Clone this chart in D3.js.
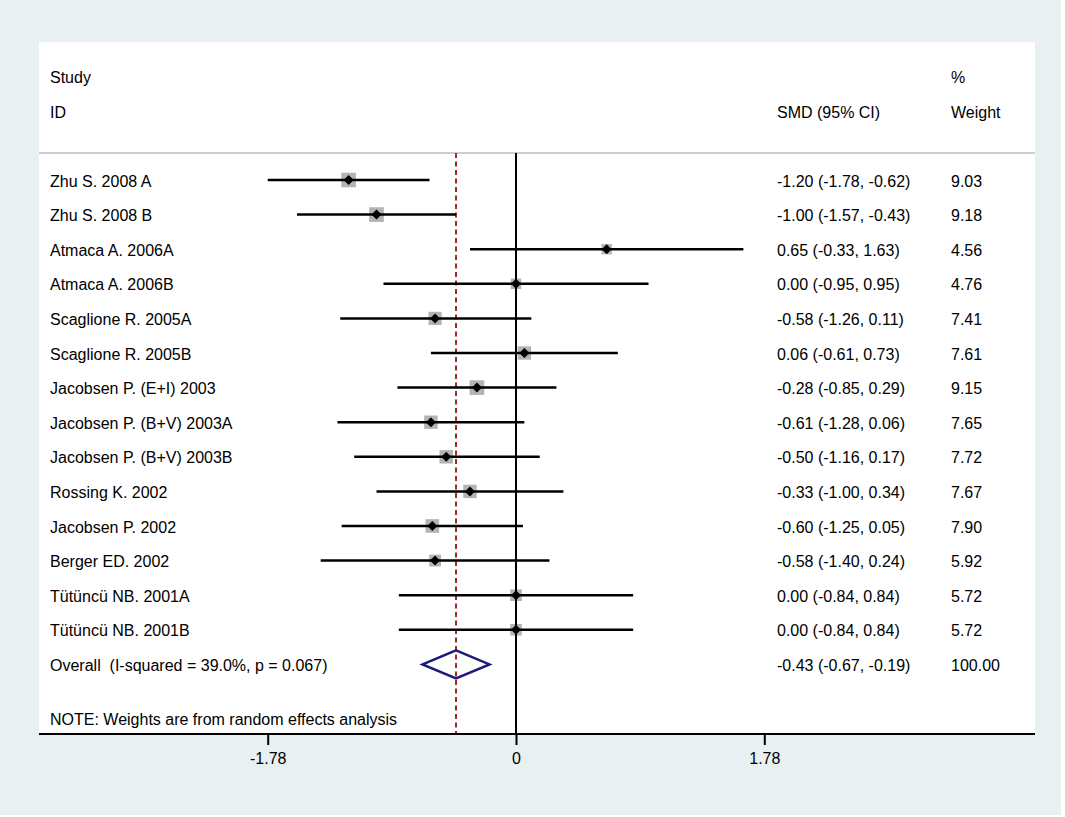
<!DOCTYPE html>
<html>
<head>
<meta charset="utf-8">
<script src="https://cdn.jsdelivr.net/npm/d3@7"></script>
<style>
  body { margin: 0; background: #fff; }
  text { font-family: "Liberation Sans", Arial, Helvetica, sans-serif; font-size: 16px; fill: #000; white-space: pre; }
</style>
</head>
<body>
<div id="chart"></div>
<script>
const studies = ["Zhu S. 2008 A", "Zhu S. 2008 B", "Atmaca A. 2006A", "Atmaca A. 2006B",
    "Scaglione R. 2005A", "Scaglione R. 2005B", "Jacobsen P. (E+I) 2003", "Jacobsen P. (B+V) 2003A",
    "Jacobsen P. (B+V) 2003B", "Rossing K. 2002", "Jacobsen P. 2002", "Berger ED. 2002",
    "Tütüncü NB. 2001A", "Tütüncü NB. 2001B"];
const smd   = [-1.20, -1.00, 0.65, 0.00, -0.58, 0.06, -0.28, -0.61, -0.50, -0.33, -0.60, -0.58, 0.00, 0.00];
const lower = [-1.78, -1.57, -0.33, -0.95, -1.26, -0.61, -0.85, -1.28, -1.16, -1.00, -1.25, -1.40, -0.84, -0.84];
const upper = [-0.62, -0.43, 1.63, 0.95, 0.11, 0.73, 0.29, 0.06, 0.17, 0.34, 0.05, 0.24, 0.84, 0.84];
const weight = [9.03, 9.18, 4.56, 4.76, 7.41, 7.61, 9.15, 7.65, 7.72, 7.67, 7.90, 5.92, 5.72, 5.72];

const overallLabel = "Overall  (I-squared = 39.0%, p = 0.067)";
const overall = { smd: -0.43, lower: -0.67, upper: -0.19, weight: 100.00 };
const tickValues = [-1.78, 0, 1.78];
const tickLabels = ["-1.78", "0", "1.78"];

const width = 1065, height = 817;
const panel = { left: 39, right: 1035, top: 42, bottom: 734 };
const headLine = 153;

const svg = d3.select("#chart").append("svg")
    .attr("width", width)
    .attr("height", height);

// background + white plot area
svg.append("rect").attr("x", 0).attr("y", 0).attr("width", 1061).attr("height", 815).attr("fill", "#e9f0f2");
svg.append("rect")
    .attr("x", panel.left).attr("y", panel.top)
    .attr("width", panel.right - panel.left).attr("height", panel.bottom - panel.top)
    .attr("fill", "#fff");

const x = d3.scaleLinear().domain([-1.78, 1.78]).range([267.7, 764.3]);
const rows = studies.concat([overallLabel]);
const y = d3.scalePoint().domain(rows).range([180, 664.4]);
const size = d3.scaleSqrt().domain([0, 9.18]).range([0, 14.7]);

const data = studies.map((s, i) => ({
    study: s, smd: smd[i], lower: lower[i], upper: upper[i], weight: weight[i]
}));

// plain hyphen, not the unicode minus d3.format gives
const fmt = v => v.toFixed(2);
const ciText = d => `${fmt(d.smd)} (${fmt(d.lower)}, ${fmt(d.upper)})`;

// header
svg.append("line")
    .attr("x1", panel.left).attr("x2", panel.right)
    .attr("y1", headLine).attr("y2", headLine)
    .attr("stroke", "#bdbdbd").attr("stroke-width", 1.5);

const header = [
    { t: "Study", x: 50, y: 77 }, { t: "ID", x: 50, y: 112 },
    { t: "SMD (95% CI)", x: 777, y: 112 },
    { t: "%", x: 951, y: 77 }, { t: "Weight", x: 951, y: 112 }
];
svg.selectAll(".head").data(header).enter().append("text")
    .attr("x", d => d.x).attr("y", d => d.y)
    .attr("dy", "0.35em")
    .text(d => d.t);

// weight squares
svg.selectAll(".box").data(data).enter().append("rect")
    .attr("x", d => x(d.smd) - size(d.weight) / 2)
    .attr("y", d => y(d.study) - size(d.weight) / 2)
    .attr("width", d => size(d.weight))
    .attr("height", d => size(d.weight))
    .attr("fill", "#b4b4b4");

// reference lines
svg.append("line")
    .attr("x1", x(0)).attr("x2", x(0))
    .attr("y1", headLine).attr("y2", panel.bottom)
    .attr("stroke", "#000").attr("stroke-width", 2);

svg.append("line")
    .attr("x1", x(overall.smd)).attr("x2", x(overall.smd))
    .attr("y1", headLine).attr("y2", panel.bottom)
    .attr("stroke", "#9e2a2f").attr("stroke-width", 2)
    .attr("stroke-dasharray", "5,3.5");

// confidence intervals
svg.selectAll(".ci").data(data).enter().append("line")
    .attr("x1", d => x(d.lower)).attr("x2", d => x(d.upper))
    .attr("y1", d => y(d.study)).attr("y2", d => y(d.study))
    .attr("stroke", "#000").attr("stroke-width", 2.5);

// point estimates
svg.selectAll(".pt").data(data).enter().append("path")
    .attr("d", d => {
        const cx = x(d.smd), cy = y(d.study), r = 5;
        return `M${cx},${cy - r}L${cx + r},${cy}L${cx},${cy + r}L${cx - r},${cy}Z`;
    })
    .attr("fill", "#000");

// overall diamond
const oy = y(overallLabel);
svg.append("path")
    .attr("d", `M${x(overall.lower)},${oy}L${x(overall.smd)},${oy - 14}L${x(overall.upper)},${oy}L${x(overall.smd)},${oy + 14}Z`)
    .attr("fill", "none")
    .attr("stroke", "#1b1b78")
    .attr("stroke-width", 2.5);

// text columns
svg.selectAll(".lbl").data(rows).enter().append("text")
    .attr("x", 50).attr("y", d => y(d) + 1)
    .attr("dy", "0.35em")
    .text(d => d);

const right = data.concat([Object.assign({ study: overallLabel }, overall)]);
svg.selectAll(".ci-txt").data(right).enter().append("text")
    .attr("x", 777).attr("y", d => y(d.study) + 1)
    .attr("dy", "0.35em")
    .text(ciText);

svg.selectAll(".w-txt").data(right).enter().append("text")
    .attr("x", 951).attr("y", d => y(d.study) + 1)
    .attr("dy", "0.35em")
    .text(d => fmt(d.weight));

svg.append("text")
    .attr("x", 50).attr("y", 719)
    .attr("dy", "0.35em")
    .text("NOTE: Weights are from random effects analysis");

// x axis
svg.append("line")
    .attr("x1", panel.left).attr("x2", panel.right)
    .attr("y1", panel.bottom).attr("y2", panel.bottom)
    .attr("stroke", "#000").attr("stroke-width", 2);

const axis = svg.append("g")
    .attr("transform", `translate(0,${panel.bottom})`)
    .call(d3.axisBottom(x).tickValues(tickValues)
        .tickFormat((d, i) => tickLabels[i]).tickSize(11).tickPadding(8));
axis.select(".domain").remove();
axis.selectAll(".tick line").attr("stroke", "#000").attr("stroke-width", 2);
axis.selectAll(".tick text")
    .style("font-family", "'Liberation Sans', Arial, sans-serif")
    .style("font-size", "16px")
    .attr("fill", "#000");
</script>
</body>
</html>
